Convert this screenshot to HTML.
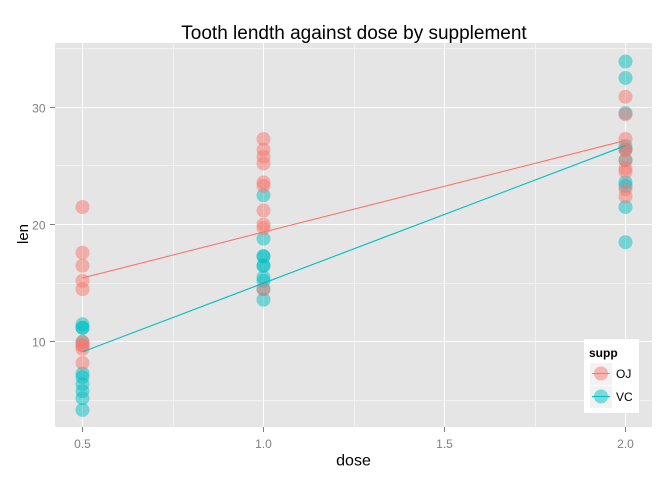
<!DOCTYPE html>
<html>
<head>
<meta charset="utf-8">
<title>Tooth lendth against dose by supplement</title>
<style>
html,body{margin:0;padding:0;background:#fff;width:672px;height:480px;overflow:hidden}
svg{display:block;font-family:"Liberation Sans",Arial,sans-serif}
</style>
</head>
<body>
<svg id="chart" width="672" height="480" viewBox="0 0 672 480" xmlns="http://www.w3.org/2000/svg"></svg>
<script>
const doseValues = [0.5, 1.0, 2.0];
const xTickValues = [0.5, 1.0, 1.5, 2.0];
const xTickLabels = ['0.5', '1.0', '1.5', '2.0'];
const xMinorValues = [0.75, 1.25, 1.75];
const yTickValues = [10, 20, 30];
const yTickLabels = ['10', '20', '30'];
const yMinorValues = [5, 15, 25, 35];
const supps = ['VC', 'OJ'];
const vcDose05 = [4.2, 11.5, 7.3, 5.8, 6.4, 10, 11.2, 11.2, 5.2, 7];
const vcDose10 = [16.5, 16.5, 15.2, 17.3, 22.5, 17.3, 13.6, 14.5, 18.8, 15.5];
const vcDose20 = [23.6, 18.5, 33.9, 25.5, 26.4, 32.5, 26.7, 21.5, 23.3, 29.5];
const ojDose05 = [15.2, 21.5, 17.6, 9.7, 14.5, 10, 8.2, 9.4, 16.5, 9.7];
const ojDose10 = [19.7, 23.3, 23.6, 26.4, 20, 25.2, 25.8, 21.2, 14.5, 27.3];
const ojDose20 = [25.5, 26.4, 22.4, 24.5, 24.8, 30.9, 26.4, 27.3, 29.4, 23];

const NS = 'http://www.w3.org/2000/svg';
const svg = document.getElementById('chart');
const COLORS = {OJ: '#F8766D', VC: '#00BFC4'};
const panel = {l: 55, r: 652, t: 43, b: 427};

function xScale(v) { return 82.5 + (v - 0.5) * 362; }
function yScale(v) { return 341.9 - (v - 10) * 11.73; }
function snap(p) { return Math.floor(p) + 0.5; }

function el(tag, attrs, parent, text) {
  const e = document.createElementNS(NS, tag);
  for (const k in attrs) e.setAttribute(k, attrs[k]);
  if (text !== undefined) e.textContent = text;
  (parent || svg).appendChild(e);
  return e;
}

const panelRect = el('rect', {x: panel.l, y: panel.t, width: panel.r - panel.l, height: panel.b - panel.t, fill: '#E5E5E5'});



xMinorValues.forEach(function (v) {
  const x = snap(xScale(v));
  const g = el('line', {x1: x, x2: x, y1: panel.t, y2: panel.b, stroke: '#F2F2F2', 'stroke-width': 1});
  
  
});
yMinorValues.forEach(function (v) {
  const y = snap(yScale(v));
  const g = el('line', {x1: panel.l, x2: panel.r, y1: y, y2: y, stroke: '#F2F2F2', 'stroke-width': 1});
  
  
});
xTickValues.forEach(function (v, i) {
  const x = snap(xScale(v));
  const g = el('line', {x1: x, x2: x, y1: panel.t, y2: panel.b, stroke: '#FFFFFF', 'stroke-width': 1});
  
  
  const t = el('line', {x1: x, x2: x, y1: panel.b, y2: panel.b + 5, stroke: '#7F7F7F', 'stroke-width': 1});
  
  
  const l = el('text', {x: x, y: 448, 'text-anchor': 'middle', 'font-size': 12, fill: '#7F7F7F'}, svg, xTickLabels[i]);
  
  
});
yTickValues.forEach(function (v, i) {
  const y = snap(yScale(v));
  const g = el('line', {x1: panel.l, x2: panel.r, y1: y, y2: y, stroke: '#FFFFFF', 'stroke-width': 1});
  
  
  const t = el('line', {x1: panel.l - 5, x2: panel.l, y1: y, y2: y, stroke: '#7F7F7F', 'stroke-width': 1});
  
  
  const l = el('text', {x: 45.5, y: y + 5, 'text-anchor': 'end', 'font-size': 12, fill: '#7F7F7F'}, svg, yTickLabels[i]);
  
  
});

function seriesValues(s) {
  return s === 'VC' ? [vcDose05, vcDose10, vcDose20] : [ojDose05, ojDose10, ojDose20];
}

supps.forEach(function (s) {
  seriesValues(s).forEach(function (vals, di) {
    vals.forEach(function (v) {
      const c = el('circle', {cx: xScale(doseValues[di]), cy: yScale(v), r: 7, fill: COLORS[s], 'fill-opacity': 0.5});
      
      
    });
  });
});

function linearFit(s) {
  const xs = [], ys = [];
  seriesValues(s).forEach(function (vals, di) {
    vals.forEach(function (v) { xs.push(doseValues[di]); ys.push(v); });
  });
  const mx = xs.reduce(function (a, b) { return a + b; }, 0) / xs.length;
  const my = ys.reduce(function (a, b) { return a + b; }, 0) / ys.length;
  let sxy = 0, sxx = 0;
  xs.forEach(function (x, i) { sxy += (x - mx) * (ys[i] - my); sxx += (x - mx) * (x - mx); });
  const slope = sxy / sxx;
  return function (x) { return my + slope * (x - mx); };
}

supps.forEach(function (s) {
  const fit = linearFit(s);
  const x0 = doseValues[0], x1 = doseValues[doseValues.length - 1];
  const ln = el('line', {x1: xScale(x0), y1: yScale(fit(x0)), x2: xScale(x1), y2: yScale(fit(x1)), stroke: COLORS[s], 'stroke-width': 1.1});
  
  
});

const title = el('text', {x: 354, y: 39, 'text-anchor': 'middle', 'font-size': 19, fill: '#000'}, svg, 'Tooth lendth against dose by supplement');


const xTitle = el('text', {x: 353.5, y: 465.5, 'text-anchor': 'middle', 'font-size': 16, fill: '#000'}, svg, 'dose');


const yTitle = el('text', {x: 0, y: 0, transform: 'translate(28 234) rotate(-90)', 'text-anchor': 'middle', 'font-size': 15, fill: '#000'}, svg, 'len');



const legend = el('g', {});


const legendBg = el('rect', {x: 584, y: 339, width: 55, height: 74, fill: '#FFFFFF'}, legend);


const legendTitle = el('text', {x: 589, y: 357, 'font-size': 12, 'font-weight': 'bold', fill: '#000'}, legend, 'supp');



['OJ', 'VC'].forEach(function (s, i) {
  const top = 363 + i * 23;
  const key = el('rect', {x: 590, y: top, width: 22, height: 22, fill: '#F2F2F2'}, legend);
  
  
  const dot = el('circle', {cx: 601, cy: top + 10.5, r: 7, fill: COLORS[s], 'fill-opacity': 0.5}, legend);
  
  
  const ln = el('line', {x1: 592, x2: 610, y1: top + 10.5, y2: top + 10.5, stroke: COLORS[s], 'stroke-width': 1}, legend);
  
  
  const lab = el('text', {x: 616, y: top + 15, 'font-size': 12, fill: '#000'}, legend, s);
  
  
});
</script>
</body>
</html>
